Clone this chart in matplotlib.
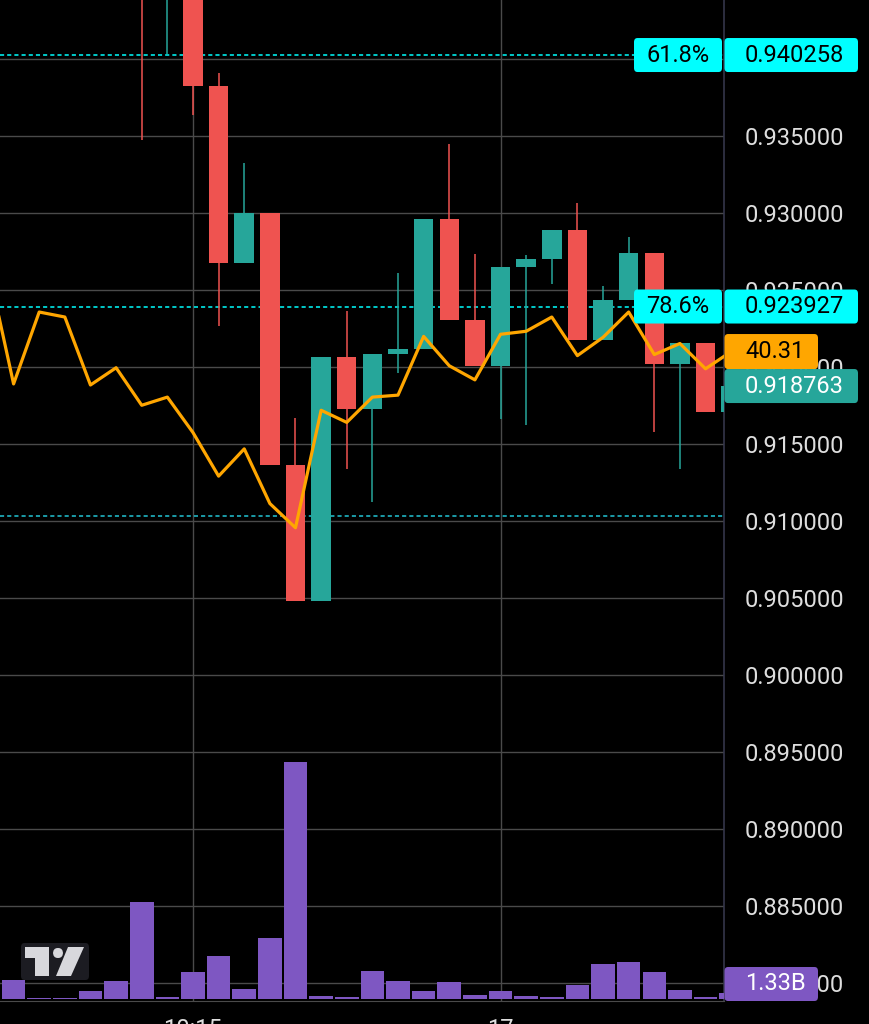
import numpy as np
import matplotlib
matplotlib.use("Agg")
import matplotlib.pyplot as plt
from matplotlib.patches import FancyBboxPatch, Polygon

plt.rcParams['font.family'] = ['Roboto', 'DejaVu Sans']

# --- data ---
opens = [0.9560, 0.9545, 0.9550, 0.9548, 0.9528, 0.9542, 0.9490, 0.9525, 0.93825, 0.92675,
         0.93000, 0.91364, 0.90481, 0.92065, 0.91727, 0.92084, 0.92117, 0.92961, 0.92305, 0.92006,
         0.92649, 0.92701, 0.92890, 0.92175, 0.92435, 0.92740, 0.92019, 0.92156, 0.91708]
highs = [0.9585, 0.9560, 0.9562, 0.9555, 0.9551, 0.9560, 0.9535, 0.9530, 0.93909, 0.93325,
         0.93000, 0.91669, 0.92065, 0.92364, 0.92084, 0.92610, 0.92961, 0.93448, 0.92734, 0.92649,
         0.92727, 0.92890, 0.93065, 0.92526, 0.92844, 0.92740, 0.92156, 0.92156, 0.918763]
lows = [0.9530, 0.9538, 0.9541, 0.9520, 0.9515, 0.93474, 0.94032, 0.93636, 0.92266, 0.92675,
        0.91364, 0.90481, 0.90481, 0.91338, 0.91123, 0.91961, 0.92117, 0.92305, 0.92006, 0.91662,
        0.91623, 0.92539, 0.92175, 0.92175, 0.92435, 0.91578, 0.91338, 0.91708, 0.91708]
closes = [0.9545, 0.9550, 0.9548, 0.9528, 0.9542, 0.9490, 0.9525, 0.93825, 0.92675, 0.93000,
          0.91364, 0.90481, 0.92065, 0.91727, 0.92084, 0.92117, 0.92961, 0.92305, 0.92006, 0.92649,
          0.92701, 0.92890, 0.92175, 0.92435, 0.92740, 0.92019, 0.92156, 0.91708, 0.918763]
volume_b = [4.2, 0.2, 0.2, 1.8, 4.0, 21.5, 0.4, 6.0, 9.5, 2.2, 13.5, 52.6, 0.7, 0.4, 6.2,
            4.0, 1.8, 3.8, 0.9, 1.8, 0.7, 0.4, 3.1, 7.8, 8.2, 6.0, 2.0, 0.4, 1.33]
# rsi starts one bar earlier (off screen on the left)
rsi = [46.77, 37.85, 43.31, 42.93, 37.77, 39.08, 36.23, 36.85, 34.16, 30.85, 32.92, 28.77,
       26.93, 35.85, 34.93, 36.85, 37.00, 41.46, 39.23, 38.16, 41.62, 41.85, 42.93, 40.00,
       41.39, 43.31, 40.08, 40.92, 39.00, 40.31]

fib_levels = [0.940258, 0.923927]
fib_names = ["61.8%", "78.6%"]
low_line = 0.910325
last_price = 0.918763
last_rsi = 40.31
last_vol = "1.33B"

price_ticks = np.arange(0.880, 0.9401, 0.005)
time_pos = [7, 19]
time_labels = ["10:15", "17"]

# colors
UP = "#26A69A"
DOWN = "#EF5350"
VOL = "#7E57C2"
RSI_C = "#FFA600"
CYAN = "#00FFFF"
GRID = "#4a4a4a"
TXT = "#dedede"

W, H = 869, 1024
fig = plt.figure(figsize=(W / 100, H / 100), dpi=100, facecolor="black")
ax = fig.add_axes([0, 23 / H, 724 / W, 1001 / H])
ax.set_facecolor("black")

# twins first - twinx() moves the parent's ticks to the left
axv = ax.twinx()
axr = ax.twinx()

x = np.arange(len(opens))
o = np.array(opens); c = np.array(closes)
colors = [UP if cc >= oo else DOWN for oo, cc in zip(o, c)]

ax.vlines(x, lows, highs, colors=colors, linewidth=1.1, zorder=3)
ax.bar(x, np.abs(c - o), bottom=np.minimum(o, c), width=0.76, color=colors, zorder=4)

ax.set_xlim(-0.53, 27.72)
ax.set_ylim(0.878831, 0.943831)

# grid + axis labels
ax.set_yticks(price_ticks)
ax.set_xticks(time_pos)
ax.set_xticklabels(time_labels)
ax.grid(True, color=GRID, linewidth=1.0, zorder=0)
ax.yaxis.tick_right()
ax.yaxis.set_major_formatter(matplotlib.ticker.FormatStrFormatter("%.6f"))
ax.tick_params(axis="y", length=0, pad=15, labelsize=17, labelcolor=TXT)
ax.tick_params(axis="x", length=0, pad=12, labelsize=17, labelcolor=TXT)
for s in ["top", "left"]:
    ax.spines[s].set_visible(False)
ax.spines["right"].set_color("#34364a")
ax.spines["right"].set_linewidth(1.2)
ax.spines["bottom"].set_color("#4a4a4a")

# fib / horizontal lines
for lvl in fib_levels:
    ax.axhline(lvl, color=CYAN, linewidth=1.1, linestyle=(0, (2.7, 2)), zorder=2)
ax.axhline(low_line, color="#22c4d4", linewidth=1.1, linestyle=(0, (2.7, 2)), zorder=2)

# volume pane (overlay at the bottom)
axv.bar(x, volume_b, width=0.92, color=VOL, zorder=2)
axv.set_ylim(-0.444, 221.8)
axv.axis("off")

# rsi overlay
axr.plot(np.arange(-1, len(opens)), rsi, color=RSI_C, linewidth=2.3, zorder=5)
axr.set_ylim(-9.0, 67.0)
axr.axis("off")


def tag(trans_ax, value, x0, x1, fc, h=34):
    yd = trans_ax.transData.transform((0, value))[1]
    fy = yd / H
    box = FancyBboxPatch((x0 / W, fy - h / 2 / H), (x1 - x0) / W, h / H,
                         boxstyle="round,pad=0,rounding_size=0.004",
                         transform=fig.transFigure, fc=fc, ec="none", zorder=10)
    fig.add_artist(box)
    return fy


def tag_text(xp, fy, text, color, ha="left"):
    fig.text(xp / W, fy, text, ha=ha, va="center", fontsize=17, color=color, zorder=11)


# fib labels
for lvl, name in zip(fib_levels, fib_names):
    fy = tag(ax, lvl, 634, 722, CYAN)
    tag_text(678, fy, name, "black", ha="center")
    tag(ax, lvl, 724.5, 858, CYAN)
    tag_text(745, fy, f"{lvl:.6f}", "black")

fy = tag(ax, last_price, 724.5, 858, UP)
tag_text(745, fy, f"{last_price:.6f}", "white")

fy = tag(axr, last_rsi, 724.5, 818, RSI_C, h=35)
tag_text(745, fy, f"{last_rsi:.2f}", "black")

# volume tag sits clamped at the bottom of the pane
fy = (H - 984) / H
box = FancyBboxPatch((724.5 / W, (H - 1001) / H), (818 - 724.5) / W, 34 / H,
                     boxstyle="round,pad=0,rounding_size=0.004",
                     transform=fig.transFigure, fc=VOL, ec="none", zorder=10)
fig.add_artist(box)
tag_text(745, fy, last_vol, "white")


# tradingview watermark
def px(pts):
    return [(a / W, 1 - b / H) for a, b in pts]

logo_c = "#d8d8dc"
fig.add_artist(FancyBboxPatch((21 / W, 1 - 980 / H), 68 / W, 37 / H,
                              boxstyle="round,pad=0,rounding_size=0.004",
                              transform=fig.transFigure, fc="#1c1c22", ec="none", zorder=9))
fig.add_artist(Polygon(px([(25, 947), (49, 947), (49, 976), (35, 976), (35, 958), (25, 958)]),
                       closed=True, transform=fig.transFigure, fc=logo_c, ec="none", zorder=10))
fig.add_artist(Polygon(px([(68, 947), (84, 947), (71, 976), (56, 976)]),
                       closed=True, transform=fig.transFigure, fc=logo_c, ec="none", zorder=10))
fig.add_artist(FancyBboxPatch((53 / W, 1 - 958 / H), 10 / W, 10 / H,
                              boxstyle="round,pad=0,rounding_size=0.0055",
                              transform=fig.transFigure, fc=logo_c, ec="none", zorder=10))

fig.savefig("out.png", dpi=100, facecolor="black")
